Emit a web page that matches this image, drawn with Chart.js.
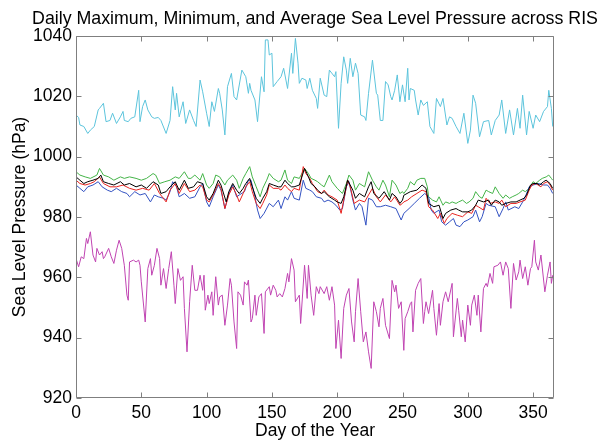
<!DOCTYPE html>
<html>
<head>
<meta charset="utf-8">
<script src="https://cdn.jsdelivr.net/npm/chart.js@4/dist/chart.umd.min.js"></script>
<style>
  html, body { margin: 0; padding: 0; background: #fff; }
  canvas { display: block; }
</style>
</head>
<body>
<canvas id="slpChart" width="605" height="443"></canvas>
<script>
const chartTitle = "Daily Maximum, Minimum, and Average Sea Level Pressure across RIS";

// axis ticks
const xTickVals = [0, 50, 100, 150, 200, 250, 300, 350];
const yTickVals = [920, 940, 960, 980, 1000, 1020, 1040];

// highest daily maximum (cyan)
const maxDays = [0,2,3,6,9,11,14,17,18,21,23,26,28,31,34,36,37,40,42,45,48,49,51,53,55,58,60,63,65,69,72,74,76,77,79,82,84,87,90,92,95,97,100,102,104,106,109,110,112,114,116,119,121,123,127,130,132,133,134,137,139,142,144,145,147,148,150,151,154,157,159,162,165,166,168,170,171,173,176,177,179,181,184,185,187,190,192,194,198,199,201,203,205,207,208,210,212,214,216,218,221,222,224,227,230,231,233,235,237,239,241,242,244,246,248,250,252,254,255,256,259,260,262,264,266,269,271,274,276,279,281,284,286,288,291,294,297,300,302,304,306,309,312,316,318,321,324,326,329,332,335,338,340,342,345,347,350,352,355,358,361,362,364,365];
const maxVals = [1013.8,1013,1010.5,1010,1007.7,1008.8,1010,1015.5,1016,1017.7,1011.6,1012,1014.4,1011,1013.2,1015,1012,1011.6,1012.7,1013.2,1022,1011.6,1016.6,1018.8,1015.5,1013.2,1012.7,1013,1012,1007.7,1012,1023.2,1015.5,1021,1013.2,1018.2,1011,1015.5,1012,1010,1025.4,1021.5,1014.4,1010,1018.2,1015,1022.6,1021,1015.5,1007.2,1023.2,1027.6,1019.9,1018.8,1028.7,1026.5,1021,1024.3,1022,1018.8,1011.6,1026.5,1021.5,1038.7,1038.7,1033.7,1034.3,1023.2,1024.9,1026.5,1029.3,1022.6,1034.3,1027.6,1039.2,1031,1024.3,1026,1025.4,1022.6,1026,1022,1019.3,1016,1026,1020.4,1019.9,1028.7,1026.5,1028.2,1009.4,1024.3,1033.1,1028.7,1024.3,1032.6,1026.5,1031,1027.6,1013.8,1013.2,1012,1021,1032,1021,1020.4,1012,1012,1024.9,1023.8,1019.9,1018.8,1022,1027.1,1018.2,1023.8,1018.2,1029.3,1018.8,1022.6,1022,1018.8,1013.8,1018.8,1017,1018.2,1010,1007.7,1019.3,1016.6,1019.3,1010.5,1013.2,1012.7,1010,1007.7,1014.4,1004.4,1008.8,1020.4,1017.7,1006.6,1011.6,1012,1007.2,1012,1013.8,1018.8,1007.7,1015.5,1007.2,1016,1009.4,1020.4,1007.2,1015,1009.4,1013.8,1011.6,1015,1016.6,1022,1016,1010];

// lowest daily minimum (magenta)
const minDays = [0,2,4,6,8,9,11,13,15,16,18,20,21,22,25,27,29,31,33,35,37,39,40,41,44,46,48,49,50,53,55,57,58,60,62,64,65,67,69,71,73,75,76,78,80,82,83,85,87,89,91,93,95,97,98,99,101,102,104,105,107,109,110,112,114,116,118,119,121,123,124,126,128,129,131,132,134,135,137,138,140,142,144,145,148,149,151,153,154,156,158,160,162,163,165,167,168,171,172,175,177,178,180,182,184,186,187,190,192,194,196,198,199,201,203,205,207,209,211,213,214,216,218,220,222,224,226,228,230,232,233,235,237,240,242,244,245,247,249,251,252,254,256,257,258,260,262,264,266,267,268,270,273,274,276,278,279,281,283,285,288,289,292,293,295,296,298,300,302,303,305,307,308,310,312,314,315,317,319,320,323,325,327,329,331,333,335,337,339,340,342,344,346,348,349,351,352,354,356,359,361,363,364,365];
const minVals = [966.2,963.5,966.8,966.2,972.9,971.2,975.1,967.4,965.1,969.6,967.4,968.5,966.2,966.8,969.6,966.8,964.6,969,972.3,969.6,964,954.1,952.4,965.1,965.7,965.1,965.7,964,958.5,945.2,962.9,966.2,960.7,964,969.6,966.2,957.4,962.9,956.3,962.9,968.5,957.4,951.3,962.9,959,960.2,949.7,935.3,951.9,964,955.7,955.7,960.7,955.7,960.7,949.1,954.1,951.3,955.2,947.4,960.2,950.8,953.5,954.1,944.1,950.8,959.6,957.4,945.2,936.4,955.2,954.1,950.8,958.5,957.4,959.1,945.2,946.3,954.1,947.4,953.5,954.6,941.4,955.2,956.9,954.1,957.4,955.7,953.5,954.6,953.5,956.3,961.3,958.5,966.2,962.4,951.9,954.1,944.7,964,953,964,954.1,947.4,956.9,954.6,956.9,954.6,956.9,952.4,956.9,950.8,936.4,945.8,933.1,949.7,954.1,956.3,945.2,938.6,948.6,959.6,948.6,938.6,941.9,935.3,929.8,951.9,948.6,943.6,949.7,953,944.1,939.7,959,955.2,957.4,949.7,951.9,935.8,946.3,948.6,951.3,951.9,941.9,955.7,958,959.6,944.7,948.6,951.9,948,955.7,949.7,940.8,951.3,944.1,951.9,955.2,951.9,958,940.3,953,949.1,940.3,945.8,938.6,950.8,944.1,950.8,954.1,947.4,954.1,941.9,956.3,958,956.9,961.3,958,963.5,964,965.1,960.7,965.1,962.9,949.7,964.6,959.1,961.8,965.7,959.6,963.5,957.4,962.9,963.5,972.3,965.1,962.4,967.4,955.2,960.7,965.1,958,960.7];

// green
const grnDays = [0,3,7,11,16,18,21,25,29,34,37,41,46,50,54,59,61,64,68,72,76,79,83,86,88,91,95,97,100,102,105,107,110,114,116,120,123,125,128,130,133,135,138,141,143,146,148,151,155,157,160,162,165,167,171,175,178,180,183,185,188,190,194,196,200,204,207,209,212,214,217,221,224,227,230,232,235,237,240,242,245,248,250,251,254,256,259,261,264,267,269,270,273,276,278,281,283,286,288,291,293,296,299,301,304,306,309,311,314,316,319,321,324,327,329,332,334,337,339,342,344,347,350,352,355,357,360,362,364,365];
const grnVals = [995,993.9,993.3,992.8,993.9,996.1,993.9,993.3,992.2,993.3,992.8,993.3,992.8,992.2,992.8,994.4,993.9,991.1,991.7,992.2,993.3,992.8,995,992.8,992.8,993.9,992.2,994.4,990.6,989.5,991.1,993.9,993.3,990.6,992.2,993.9,992.2,989.5,992.8,994.4,996.7,993.3,990,986.7,989.5,992.2,994.4,992.8,991.7,992.2,995.6,992.2,991.1,993.3,992.8,996.1,994.4,992.8,992.2,991.7,990.6,990,993.9,991.7,989.5,987.8,991.1,993.9,992.2,988.9,991.1,990,995,992.2,990,988.9,992.2,990.6,986.7,992.2,990.6,987.8,988.4,987.8,989.5,991.7,990.6,992.2,992.8,992.8,990,986.7,985.6,985,986.7,983.9,985,984.5,985,984.5,985,985.6,984.5,985,986.2,988.4,986.7,986.2,988.9,988.4,987.8,990,987.8,986.2,987.3,986.2,986.7,987.3,987.8,988.9,988.4,989.5,991.7,991.1,992.2,992.8,993.3,993.9,992.8,992.2];

// black
const blkDays = [0,3,6,9,13,17,19,21,25,29,34,37,41,46,50,54,59,63,65,69,72,76,79,83,86,90,93,97,100,102,105,109,111,115,117,120,123,125,128,130,133,135,138,141,143,146,148,151,155,157,160,162,165,167,171,175,178,180,183,185,188,190,194,198,200,203,205,208,212,214,217,221,224,226,228,232,236,240,242,245,248,250,251,256,261,265,268,270,274,278,281,283,287,291,293,296,300,303,306,308,312,316,318,321,324,326,329,333,337,340,343,345,348,350,353,355,358,360,363,365];
const blkVals = [993.3,992.2,991.1,991.7,992.2,992.8,993.9,991.7,991.1,990.6,991.7,990.6,991.1,990,990.6,989.5,991.7,990.6,987.8,988.4,990,991.7,988.9,992.2,989.5,990,991.7,991.1,986.7,985.6,987.8,992.2,990.6,985,988.4,991.1,988.9,987.8,989.5,991.1,992.8,990,986.2,984.5,986.2,988.4,991.1,990.6,990,990,992.2,991.1,990,990,990.6,996.1,993.3,991.1,990,988.9,987.8,988.4,986.7,985.6,985,984.5,986.7,992.2,988.9,986.2,987.8,986.7,990,991.7,987.8,986.2,988.4,985.6,987.8,986.7,984.5,985.6,987.2,988.4,988.9,990.6,989.5,984.5,983.4,983.9,979.5,981.2,982.3,982.8,982.3,981.7,981.7,982.3,983.9,985.6,985,985.6,983.9,985.6,985,983.9,984.5,985,985,985.6,986.2,987.3,990.6,991.1,991.1,990.6,991.7,992.2,991.1,989.5];

// red
const redDays = [0,3,7,11,14,18,21,26,31,36,41,46,51,56,60,64,69,72,76,79,83,87,91,95,97,100,102,105,109,111,114,117,120,123,125,128,130,133,135,138,141,143,146,148,151,155,157,160,162,165,167,171,174,176,179,181,185,188,190,193,196,200,203,205,208,210,213,217,221,224,227,230,233,237,241,244,248,250,251,254,257,261,265,268,270,273,277,279,282,284,288,292,296,300,303,306,308,312,314,317,321,324,326,329,333,337,340,344,347,349,352,356,358,361,363,365];
const redVals = [992.2,991.1,990.6,991.1,991.7,993.3,991.1,990,990,990.6,989.5,988.9,989.5,988.9,991.1,987.8,985,988.9,991.1,987.8,991.1,988.4,988.9,990.6,990,985.6,985,987.3,991.1,989.5,982.8,987.3,990,987.3,985,987.8,990,991.7,988.4,984.5,982.8,984.5,987.3,990.6,989.5,989.5,988.9,990.6,989.5,988.4,989.5,988.9,996.7,994.4,992.8,991.1,988.4,987.8,988.9,987.3,986.7,985.6,981.2,985.6,992.2,990,984.5,985.6,985,987.3,989.5,986.7,985,987.3,985,986.7,983.9,984.5,985,985.6,986.7,987.8,988.9,988.4,983.4,982.3,979.5,981.2,977.9,979.5,981.2,980.6,980.1,981.7,981.2,983.9,983.4,982.3,986.2,984.5,985,984.5,985.6,983.4,984.5,984.5,985,985.6,988.9,990.6,991.1,990,991.1,991.7,990.6,988.9];

// blue
const bluDays = [0,3,6,9,13,17,20,24,27,31,35,39,41,45,49,53,57,60,63,67,69,72,74,77,79,83,87,91,95,97,100,102,105,109,111,114,117,120,123,125,129,132,134,137,139,141,144,148,151,155,157,160,162,165,167,171,174,176,179,181,184,188,190,193,196,199,202,204,207,209,212,214,217,219,222,224,227,230,233,237,241,245,249,251,255,259,263,267,270,272,274,278,280,283,286,289,291,294,297,300,304,306,309,311,314,316,321,324,327,329,331,336,339,342,344,347,350,354,358,361,363,365];
const bluVals = [990.6,989.5,988.4,990,990.6,991.7,990,988.9,988.4,989.5,988.4,987.8,986.7,988.4,987.3,987.8,985,987.3,986.7,986.2,985.6,988.4,991.7,990,986.7,987.8,986.2,986.7,990,991.1,985,983.4,986.7,990.6,988.9,982.8,987.8,990.6,986.7,987.3,988.4,992.2,992.2,986.7,982.3,979.5,981.2,984.5,983.4,985.6,982.8,986.7,985.6,988.4,986.2,985.6,992.2,989.5,988.9,988.4,986.7,986.2,985,985.6,985,983.9,982.3,982.8,990,991.7,985.6,982.3,984.5,983.4,977.3,986.2,985.6,983.4,983.4,983.9,983.4,982.8,979,981.2,982.8,984.5,986.2,987.8,986.7,982.3,981.2,982.3,978.4,977.3,978.4,979.5,977.3,976.8,978.4,979,980.1,982.3,978.4,980.1,984.5,983.9,983.4,980.1,982.8,985,982.3,983.4,982.8,985,986.7,990,990.6,991.1,990.6,990.6,989.5,987.8];

function toPoints(days, vals) {
  return days.map((d, i) => ({ x: d, y: vals[i] }));
}

function series(days, vals, color, order) {
  return {
    data: toPoints(days, vals),
    borderColor: color,
    borderWidth: 1,
    pointRadius: 0,
    tension: 0,
    fill: false,
    order: order,
  };
}

const fontFamily = "'Liberation Sans', Arial, sans-serif";
Chart.defaults.font.family = fontFamily;
Chart.defaults.color = "#000";

// box around the plot, inward tick marks and the title (centred on the axes, wider than them)
const frame = {
  id: "frame",
  afterDatasetsDraw(chart) {
    const { ctx, chartArea: a, scales } = chart;
    const L = a.left + 0.5, R = a.right - 0.5, T = a.top + 0.5, B = a.bottom - 0.5;
    const len = 5;
    ctx.save();
    ctx.strokeStyle = "#7f7f7f";
    ctx.lineWidth = 1;
    ctx.beginPath();
    ctx.rect(L, T, R - L, B - T);
    xTickVals.forEach((v) => {
      const px = Math.round(scales.x.getPixelForValue(v)) + 0.5;
      ctx.moveTo(px, B); ctx.lineTo(px, B - len);
      ctx.moveTo(px, T); ctx.lineTo(px, T + len);
    });
    yTickVals.forEach((v) => {
      const py = Math.round(scales.y.getPixelForValue(v)) + 0.5;
      ctx.moveTo(L, py); ctx.lineTo(L + len, py);
      ctx.moveTo(R, py); ctx.lineTo(R - len, py);
    });
    ctx.stroke();

    ctx.fillStyle = "#000";
    ctx.font = "17.8px " + fontFamily;
    ctx.textAlign = "center";
    ctx.textBaseline = "alphabetic";
    ctx.fillText(chartTitle, (a.left + a.right) / 2, 23.5);
    ctx.restore();
  },
};

const ctx = document.getElementById("slpChart").getContext("2d");
new Chart(ctx, {
  type: "line",
  data: {
    datasets: [
      series(maxDays, maxVals, "#5cc4dc", 6),
      series(minDays, minVals, "#c044b2", 5),
      series(grnDays, grnVals, "#44b448", 4),
      series(bluDays, bluVals, "#3352c2", 3),
      series(redDays, redVals, "#e8231f", 2),
      series(blkDays, blkVals, "#000000", 1),
    ],
  },
  options: {
    responsive: false,
    animation: false,
    devicePixelRatio: 1,
    layout: { padding: { left: 0, right: 51, top: 36, bottom: 0 } },
    plugins: {
      legend: { display: false },
      tooltip: { enabled: false },
    },
    scales: {
      x: {
        type: "linear",
        position: "bottom",
        min: 0,
        max: 366,
        grid: { display: false, drawTicks: false },
        border: { display: false },
        ticks: { stepSize: 50, includeBounds: false, padding: 5, maxRotation: 0, font: { size: 17.5 } },
        title: { display: true, text: "Day of the Year", font: { size: 17.5 }, padding: { top: 0, bottom: 1 } },
        afterFit: (scale) => { scale.height = 45; },
      },
      y: {
        type: "linear",
        position: "left",
        min: 920,
        max: 1040,
        grid: { display: false, drawTicks: false },
        border: { display: false },
        ticks: { stepSize: 20, padding: 4, font: { size: 17.5 }, callback: (v) => String(v) },
        title: { display: true, text: "Sea Level Pressure (hPa)", font: { size: 17.5 }, padding: { top: 10, bottom: 0 } },
        afterFit: (scale) => { scale.width = 76; },
      },
    },
  },
  plugins: [frame],
});
</script>
</body>
</html>
